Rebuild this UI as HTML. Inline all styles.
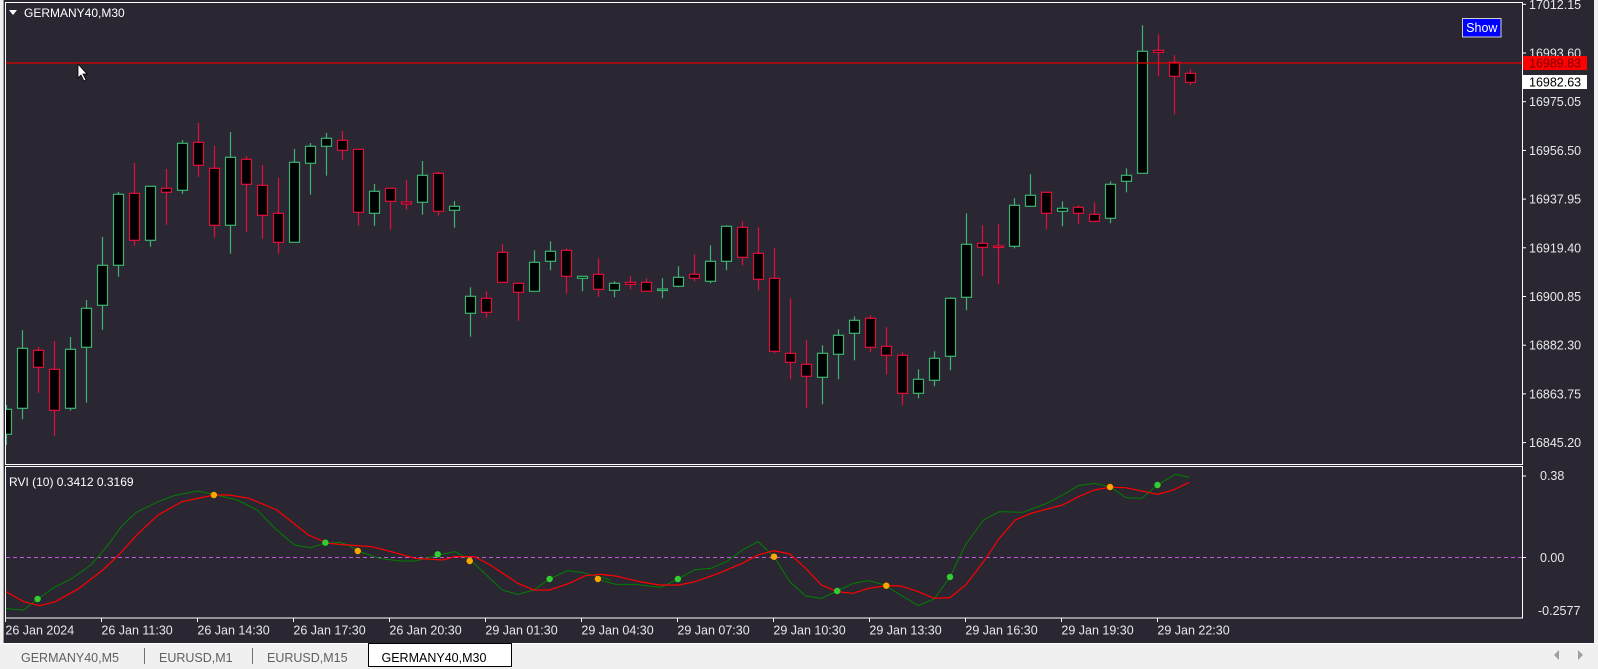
<!DOCTYPE html>
<html><head><meta charset="utf-8"><style>
body{margin:0;width:1598px;height:669px;overflow:hidden;background:#f0f0f0;font-family:"Liberation Sans",sans-serif}
svg{position:absolute;left:0;top:0}
text{font-family:"Liberation Sans",sans-serif}
</style></head><body>
<svg id="s" width="1598" height="669" viewBox="0 0 1598 669" xmlns="http://www.w3.org/2000/svg">
<rect x="0" y="0" width="1598" height="669" fill="#f0f0f0"/>
<rect x="3" y="0" width="1591" height="643" fill="#2a2632"/>
<line x1="3.5" y1="0" x2="3.5" y2="643" stroke="#a0a0a0"/>
<!-- pane frames -->
<rect x="5.5" y="2.5" width="1517" height="462" fill="none" stroke="#ffffff"/>
<rect x="5.5" y="466.5" width="1517" height="151.5" fill="none" stroke="#ffffff"/>
<g id="candles"></g>
<!-- price line -->
<line x1="6" y1="63" x2="1522" y2="63" stroke="#e00000" stroke-width="1.2"/>
<!-- cursor -->
<path d="M78 64 L78 78 L81 75 L84 81 L86 80 L83 74 L87 74 Z" fill="#fff" stroke="#000" stroke-width="0.8"/>
<!-- title -->
<path d="M9 10 L17 10 L13 15 Z" fill="#fff"/>
<text x="24" y="17" font-size="12" fill="#fff">GERMANY40,M30</text>
<!-- Show button -->
<rect x="1462.5" y="18.5" width="38.5" height="18.5" fill="#0000ff" stroke="#d0d0d0"/>
<text x="1481.8" y="32" font-size="12.5" fill="#fff" text-anchor="middle">Show</text>
<g id="plabels" font-size="12.5" fill="#e8e8e8"></g>
<rect x="1523" y="56" width="64" height="14" fill="#ff0000"/>
<text x="1529" y="67.5" font-size="12.5" fill="#7a0000">16989.83</text>
<rect x="1523" y="75" width="64" height="14" fill="#ffffff"/>
<text x="1529" y="86.5" font-size="12.5" fill="#000">16982.63</text>
<!-- indicator -->
<text x="9" y="486" font-size="12" fill="#fff">RVI (10) 0.3412 0.3169</text>
<line x1="6" y1="557.5" x2="1522" y2="557.5" stroke="#c05ad8" stroke-dasharray="4,3"/>
<g transform="translate(0,455) scale(0.3954,0.3333)" fill="none">
<polyline vector-effect="non-scaling-stroke" stroke="#008000" stroke-width="1" points="15,460 35,463 60,465 95,432 140,395 180,372 230,330 270,275 310,210 345,172 400,140 440,122 500,108 540,118 600,135 650,165 700,225 745,270 785,278 820,265 860,262 880,270 910,290 960,310 1010,318 1050,318 1110,300 1150,290 1190,315 1230,360 1270,405 1310,418 1350,405 1390,372 1435,347 1470,352 1530,370 1545,376"/>
<polyline vector-effect="non-scaling-stroke" stroke="#ff0000" stroke-width="1.2" points="15,410 60,440 100,452 140,440 200,400 260,345 300,300 350,235 400,180 460,140 541,120 580,120 630,130 700,165 780,240 830,265 880,270 940,275 990,290 1050,310 1120,315 1150,305 1200,305 1240,330 1310,385 1350,405 1390,405 1440,385 1480,362 1520,358 1545,362"/>
</g>
<g transform="translate(600,455) scale(0.3954,0.3333)" fill="none">
<polyline vector-effect="non-scaling-stroke" stroke="#008000" stroke-width="1" points="0,375 40,388 90,388 155,397 197,372 240,344 280,340 320,320 360,285 400,260 440,305 480,380 520,423 560,430 600,408 640,385 680,377 720,390 760,420 805,452 845,432 885,366 925,268 970,195 1010,170 1070,172 1130,145 1170,120 1210,92 1250,85 1290,95 1330,128 1370,130 1410,90 1455,58 1490,67"/>
<polyline vector-effect="non-scaling-stroke" stroke="#ff0000" stroke-width="1.2" points="0,358 40,363 100,380 150,390 200,390 240,380 300,355 360,325 400,300 440,287 480,297 520,340 560,390 600,410 640,415 680,400 724,392 760,393 800,408 845,430 885,428 925,390 970,320 1010,250 1050,195 1090,175 1170,150 1210,125 1250,105 1290,97 1330,98 1390,113 1410,118 1450,105 1490,82"/>
</g>
<g fill="#32cd32">
<circle cx="37.6" cy="599" r="3.2"/><circle cx="325.4" cy="542.7" r="3.2"/><circle cx="437.7" cy="554.3" r="3.2"/><circle cx="549.6" cy="579" r="3.2"/>
<circle cx="677.9" cy="579" r="3.2"/><circle cx="837.2" cy="591" r="3.2"/><circle cx="950" cy="577" r="3.2"/><circle cx="1157.5" cy="485" r="3.2"/>
</g>
<g fill="#ffa500">
<circle cx="213.9" cy="495" r="3.2"/><circle cx="357.8" cy="551" r="3.2"/><circle cx="469.7" cy="561" r="3.2"/><circle cx="597.9" cy="579" r="3.2"/>
<circle cx="774" cy="556.7" r="3.2"/><circle cx="886.3" cy="585.7" r="3.2"/><circle cx="1110" cy="487" r="3.2"/>
</g>
<g font-size="12.5" fill="#e8e8e8">
<line x1="1522" y1="476" x2="1526" y2="476" stroke="#fff"/><text x="1540" y="480">0.38</text>
<line x1="1522" y1="557.5" x2="1526" y2="557.5" stroke="#fff"/><text x="1540" y="562">0.00</text>
<text x="1538" y="615">-0.2577</text>
</g>
<g id="tlabels" font-size="12.5" fill="#e8e8e8"></g>
<!-- tabs -->
<line x1="0" y1="643.5" x2="1598" y2="643.5" stroke="#ffffff"/>
<g font-size="12.5" fill="#606060">
<text x="21" y="662">GERMANY40,M5</text>
<line x1="144.5" y1="648" x2="144.5" y2="664" stroke="#707070"/>
<text x="159" y="662">EURUSD,M1</text>
<line x1="252.5" y1="648" x2="252.5" y2="664" stroke="#707070"/>
<text x="267" y="662">EURUSD,M15</text>
</g>
<rect x="368.5" y="643.5" width="143" height="23" fill="#fff" stroke="#000"/>
<text x="381.5" y="662" font-size="12.5" fill="#000">GERMANY40,M30</text>
<path d="M1559 650 L1554 655 L1559 660 Z" fill="#a0a0a0"/>
<path d="M1578 650 L1583 655 L1578 660 Z" fill="#a0a0a0"/>
</svg>
<script>
var NS="http://www.w3.org/2000/svg";
function el(p,t,a,tx){var e=document.createElementNS(NS,t);for(var k in a)e.setAttribute(k,a[k]);if(tx)e.textContent=tx;p.appendChild(e);return e;}
var D=[
"g 409.3 434.3 405 445","g 348.3 408.3 330 419.3","r 350.3 367.3 347 392.7","r 369.3 410.3 341 435.7","g 349.3 408.3 337 410.7",
"g 308.3 347.3 300 402.7","g 265.3 305.3 237 329.7","g 194.3 265.3 192 276.7","r 193.3 240.3 163 245.7","g 186.3 240.3 186.3 246.7",
"r 188.3 192.3 169 224.7","g 143.3 190.3 140 193.7","r 142.3 165.3 123 176.7","r 168.3 225.3 146 237.7","g 157.3 225.3 132 253.7",
"r 159.3 184.3 156 231.7","r 185.3 215.3 165 238.7","r 213.3 242.3 178 253.7","g 162.3 242.3 149 242.3","g 146.3 163.3 143 194.7",
"g 138.3 146.3 133 175.7","r 140.3 150.3 131 159.7","r 149.3 212.3 149.3 225.7","g 191.3 213.3 184 225.7","r 188.3 201.3 188.3 229.7",
"r 202 204 180 209.7","g 175.3 202.3 161 214.7","r 173.3 211.3 172 215.7","g 206.3 210.3 201 227.7",
"g 296.3 313.3 287.3 336.7","r 298.3 312.3 291.3 317.7","r 252.3 282.3 244 282.3","r 283.3 292.3 283.3 320.7","g 262.3 291.3 250.3 291.3",
"g 251.3 261.3 241.3 270.3","r 250.3 276.3 248.3 293.7","g 276.3 278.3 276.3 291.3","r 274.3 289.3 258.3 296.7","g 283.3 290.3 281.3 297.3",
"r 282.3 284.3 276.3 289.3","r 282.3 291.3 278.3 291.3","g 289 290.5 278.3 298.3","g 277.3 286.3 266.3 287.3","r 274.3 278.3 254.3 281.3",
"g 261.3 281.3 245.3 283.3","g 226.3 261.3 225.3 270.3","r 227.3 257.3 221.3 265.3","r 253.3 279.3 227.3 290.3","r 278.3 351.3 248.3 353.3",
"r 353.3 362.3 298.3 379.3","r 364.3 376.3 340.3 408.3","g 353.3 377.3 345.3 404.3","g 335.3 354.3 329.3 379.3","g 320.3 333.3 316.3 360.3",
"r 318.3 347.3 315.3 352.3","r 346.3 355.3 327.3 374.3","r 355.3 393.3 352.3 405.3","g 379.3 393.3 369.3 398.3","g 358.3 380.3 351.3 386.3",
"g 298.3 356.3 297.3 370.3","g 244.3 297.3 213.3 310.3","r 243.3 247.3 225.3 276.3","r 246 247.5 224.3 284.3","g 205.3 246.3 198.3 248.3",
"g 195.3 206.3 174.3 206.3","r 192.3 213.3 192.3 229.3","g 208.3 211.3 201.3 226.3","r 207.3 213.3 205.3 224.3","r 214.3 221.3 202.3 222.3",
"g 184.3 218.3 181.3 223.3","g 175.3 181.3 168.3 192.3","g 51.3 173.3 25.3 173.3","r 50.3 52.3 34.3 76.3","r 62.3 76.3 55.3 114.3","r 73.3 82.3 69.3 85.3"];
var g=document.getElementById("candles");
el(g,"clipPath",{id:"cp"});el(document.getElementById("cp"),"rect",{x:6,y:3,width:1516,height:461});
g.setAttribute("clip-path","url(#cp)");
D.forEach(function(s,i){var p=s.split(" "),c=p[0]=="g"?"#3cb371":"#e0103c";
var cx=Math.round(6.3+16*i)+0.5,t=+p[1],b=+p[2],h=+p[3],l=+p[4];
el(g,"line",{x1:cx,y1:h,x2:cx,y2:l,stroke:c,"stroke-width":1.2});
el(g,"rect",{x:cx-5,y:t,width:10,height:Math.max(b-t,1.5),fill:"#000",stroke:c,"stroke-width":1.2});});
var P=["17012.15","16993.60","16975.05","16956.50","16937.95","16919.40","16900.85","16882.30","16863.75","16845.20"];
var pl=document.getElementById("plabels");
P.forEach(function(v,k){var y=4.3+48.7*k;el(pl,"line",{x1:1522,y1:y,x2:1526,y2:y,stroke:"#fff"});el(pl,"text",{x:1529,y:y+4.5},v);});
var T=["26 Jan 2024","26 Jan 11:30","26 Jan 14:30","26 Jan 17:30","26 Jan 20:30","29 Jan 01:30","29 Jan 04:30","29 Jan 07:30","29 Jan 10:30","29 Jan 13:30","29 Jan 16:30","29 Jan 19:30","29 Jan 22:30"];
var tl=document.getElementById("tlabels");
T.forEach(function(v,k){var x=5.4+96*k;el(tl,"line",{x1:Math.round(x)+0.5,y1:618,x2:Math.round(x)+0.5,y2:622,stroke:"#fff"});el(tl,"text",{x:x,y:634.5},v);});
</script>
</body></html>
